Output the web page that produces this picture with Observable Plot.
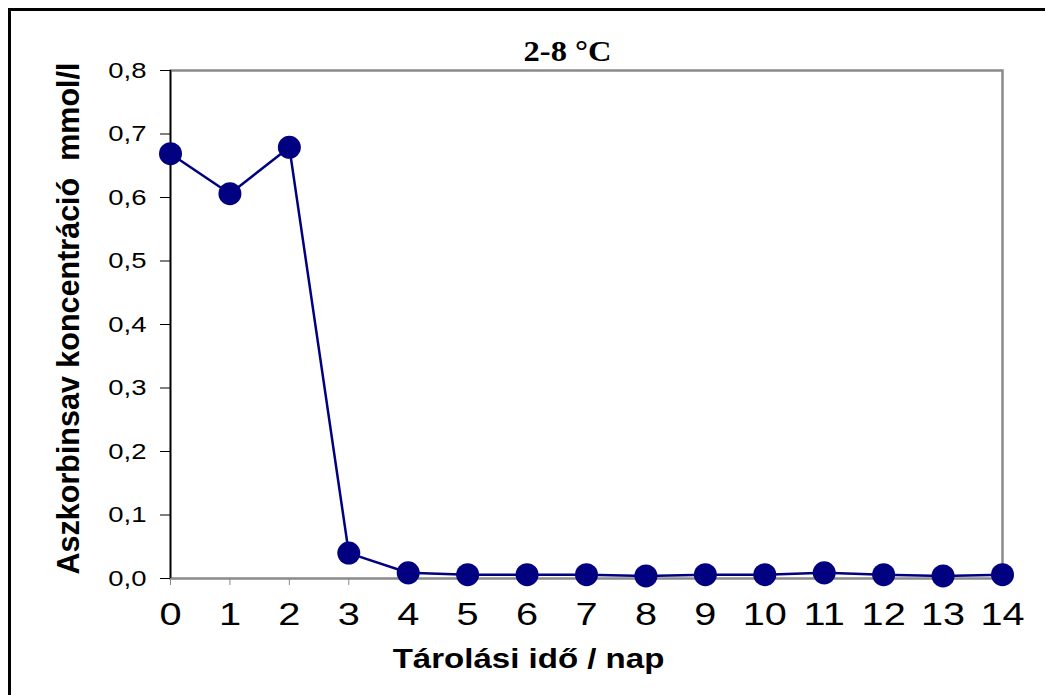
<!DOCTYPE html>
<html>
<head>
<meta charset="utf-8">
<script src="https://cdn.jsdelivr.net/npm/d3@7"></script>
<script src="https://cdn.jsdelivr.net/npm/@observablehq/plot@0.6"></script>
<style>
  html, body { margin: 0; padding: 0; background: #fff; overflow: hidden; }
  #wrap { position: relative; width: 1045px; height: 695px; }
  #outer { position: absolute; left: 8px; top: 8px; width: 1100px; height: 800px;
           border-top: 3px solid #000; border-left: 3px solid #000; box-sizing: border-box; pointer-events: none; }
  #chart { position: absolute; left: 0; top: 0; }
</style>
</head>
<body>
<div id="wrap">
  <div id="chart"></div>
  <div id="outer"></div>
</div>
<script>
const days = [0, 1, 2, 3, 4, 5, 6, 7, 8, 9, 10, 11, 12, 13, 14];
const conc = [0.669, 0.606, 0.679, 0.040, 0.009, 0.006, 0.006, 0.006, 0.004, 0.006, 0.006, 0.009, 0.006, 0.004, 0.006];
const yTicks = [0, 0.1, 0.2, 0.3, 0.4, 0.5, 0.6, 0.7, 0.8];
const xTicks = days;
const titleText = "2-8 °C";
const xTitle = "Tárolási idő / nap";
const yTitle = "Aszkorbinsav koncentráció  mmol/l";

const data = days.map((d, i) => ({day: d, value: conc[i]}));
const sans = "'Liberation Sans', Arial, sans-serif";

const plot = Plot.plot({
  width: 1045,
  height: 695,
  marginLeft: 170,
  marginRight: 43,
  marginTop: 70,
  marginBottom: 117,
  style: {fontFamily: sans, background: "transparent", overflow: "visible"},
  x: {domain: [0, 14]},
  y: {domain: [0, 0.8]},
  marks: [
    Plot.frame({stroke: "#8a8a8a", strokeWidth: 2.5}),
    Plot.ruleX([0], {stroke: "#000", strokeWidth: 1.5}),
    Plot.axisY({ticks: yTicks, tickFormat: d => d.toFixed(1).replace(".", ","), tickSize: 10, tickPadding: 14,
                fontSize: 22, label: null, stroke: "#000"}),
    Plot.axisX({ticks: xTicks, tickSize: 7, tickFormat: () => "", stroke: "#8a8a8a", label: null}),
    Plot.axisX({ticks: xTicks, tickSize: 0, tickPadding: 24, fontSize: 31, label: null}),
    Plot.line(data, {x: "day", y: "value", stroke: "#000080", strokeWidth: 2.5}),
    Plot.dot(data, {x: "day", y: "value", r: 11.5, fill: "#000080"}),
    Plot.text([titleText], {frameAnchor: "top", dx: -19, dy: -30, fontSize: 29, fontWeight: "bold",
                            fontFamily: "'Liberation Serif', 'Times New Roman', serif"}),
    Plot.text([xTitle], {frameAnchor: "bottom", dx: -58, dy: 89, fontSize: 28, fontWeight: "bold"}),
    Plot.text([yTitle], {frameAnchor: "left", textAnchor: "middle", dx: -101, dy: -6, rotate: -90,
                         fontSize: 30.5, fontWeight: "bold"})
  ]
});
document.getElementById("chart").appendChild(plot);

// horizontal stretch of the horizontal texts, as in the reference
function stretchText(t, f) {
  const len = t.getComputedTextLength();
  if (len > 0) {
    t.setAttribute("textLength", (len * f).toFixed(1));
    t.setAttribute("lengthAdjust", "spacingAndGlyphs");
  }
}
plot.querySelectorAll(`g[aria-label="y-axis tick label"] text`).forEach(t => stretchText(t, 1.25));
plot.querySelectorAll(`g[aria-label="x-axis tick label"] text`).forEach(t => stretchText(t, 1.28));
plot.querySelectorAll(`g[aria-label="text"] text`).forEach(t => {
  const s = t.textContent;
  if (s === titleText) stretchText(t, 1.12);
  else if (s === xTitle) stretchText(t, 1.18);
});
</script>
</body>
</html>
